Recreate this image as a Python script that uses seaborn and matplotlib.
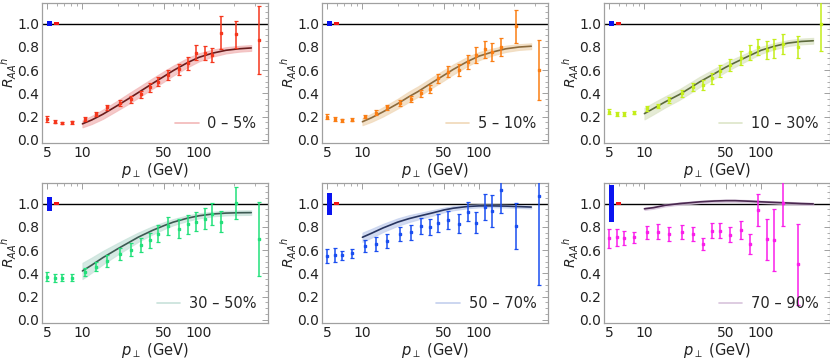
import numpy as np
import pandas as pd
import seaborn as sns
import matplotlib.pyplot as plt
from matplotlib.lines import Line2D
from matplotlib.ticker import FixedLocator, NullFormatter, MultipleLocator

# data
pt = [5.0, 5.8, 6.7, 8.2, 10.6, 13.0, 16.4, 21.0, 26.2, 31.5, 38.0, 44.5,
      54.0, 67.0, 80.0, 95.0, 112.0, 130.0, 153.0, 207.0, 325.0]

labels = ['0 – 5%', '5 – 10%', '10 – 30%', '30 – 50%', '50 – 70%', '70 – 90%']

raa_0_5 = [0.177, 0.157, 0.143, 0.149, 0.177, 0.223, 0.28, 0.314, 0.349, 0.39, 0.45,
           0.50, 0.557, 0.606, 0.657, 0.749, 0.743, 0.726, 0.923, 0.906, 0.857]
err_0_5 = [0.025, 0.015, 0.01, 0.01, 0.015, 0.02, 0.02, 0.025, 0.03, 0.03, 0.035,
           0.04, 0.045, 0.05, 0.055, 0.065, 0.06, 0.06, 0.14, 0.12, 0.29]
raa_5_10 = [0.20, 0.18, 0.166, 0.171, 0.20, 0.234, 0.28, 0.314, 0.349, 0.40, 0.437,
            0.529, 0.586, 0.60, 0.671, 0.729, 0.777, 0.757, 0.80, 0.977, 0.60]
err_5_10 = [0.025, 0.015, 0.01, 0.012, 0.015, 0.02, 0.022, 0.025, 0.028, 0.03, 0.035,
            0.04, 0.05, 0.05, 0.06, 0.065, 0.075, 0.075, 0.08, 0.14, 0.26]
raa_10_30 = [0.243, 0.223, 0.223, 0.234, 0.271, 0.291, 0.343, 0.40, 0.451, 0.471, 0.529,
             0.591, 0.643, 0.70, 0.751, 0.80, 0.771, 0.786, 0.823, 0.80, 1.0]
err_10_30 = [0.02, 0.015, 0.015, 0.015, 0.02, 0.02, 0.025, 0.03, 0.035, 0.04, 0.045,
             0.05, 0.055, 0.06, 0.065, 0.07, 0.075, 0.08, 0.085, 0.095, 0.24]
raa_30_50 = [0.37, 0.358, 0.361, 0.361, 0.413, 0.456, 0.507, 0.564, 0.602, 0.642, 0.685,
             0.742, 0.808, 0.785, 0.822, 0.845, 0.871, 0.908, 0.845, 1.003, 0.693]
err_30_50 = [0.04, 0.035, 0.03, 0.03, 0.035, 0.04, 0.05, 0.05, 0.055, 0.06, 0.065,
             0.07, 0.075, 0.08, 0.08, 0.085, 0.09, 0.095, 0.09, 0.14, 0.32]
raa_50_70 = [0.55, 0.556, 0.556, 0.573, 0.636, 0.656, 0.679, 0.736, 0.751, 0.808, 0.80,
             0.831, 0.86, 0.828, 0.931, 0.837, 0.971, 0.934, 1.117, 0.808, 1.066]
err_50_70 = [0.06, 0.06, 0.04, 0.04, 0.05, 0.06, 0.06, 0.06, 0.065, 0.07, 0.07,
             0.075, 0.08, 0.08, 0.08, 0.09, 0.11, 0.14, 0.2, 0.2, 0.77]
raa_70_90 = [0.70, 0.708, 0.702, 0.708, 0.751, 0.756, 0.742, 0.759, 0.742, 0.65, 0.765,
             0.765, 0.731, 0.774, 0.65, 0.943, 0.693, 0.685, 1.009, 0.478]
err_70_90 = [0.08, 0.075, 0.06, 0.05, 0.055, 0.065, 0.06, 0.06, 0.06, 0.05, 0.065,
             0.065, 0.065, 0.075, 0.085, 0.14, 0.175, 0.265, 0.2, 0.35]

# model curves
pt_th = [10, 12, 15, 20, 25, 30, 40, 50, 60, 80, 100, 130, 170, 220, 280]
th_0_5 = [0.137, 0.17, 0.22, 0.295, 0.355, 0.405, 0.485, 0.545, 0.595, 0.665, 0.71, 0.745, 0.77, 0.783, 0.79]
th_5_10 = [0.155, 0.19, 0.24, 0.31, 0.37, 0.415, 0.495, 0.555, 0.605, 0.675, 0.72, 0.755, 0.783, 0.798, 0.805]
th_10_30 = [0.225, 0.27, 0.325, 0.39, 0.45, 0.5, 0.57, 0.625, 0.665, 0.725, 0.77, 0.805, 0.832, 0.846, 0.852]
th_30_50 = [0.42, 0.47, 0.535, 0.61, 0.665, 0.71, 0.77, 0.81, 0.84, 0.875, 0.895, 0.91, 0.918, 0.921, 0.922]
th_50_70 = [0.71, 0.745, 0.79, 0.84, 0.87, 0.89, 0.92, 0.945, 0.96, 0.975, 0.98, 0.98, 0.978, 0.974, 0.97]
th_70_90 = [0.955, 0.965, 0.985, 1.0, 1.008, 1.015, 1.022, 1.025, 1.025, 1.02, 1.015, 1.01, 1.005, 1.0, 0.997]
band_0_5 = [0.03, 0.035, 0.04, 0.042, 0.045, 0.045, 0.045, 0.045, 0.043, 0.04, 0.035, 0.03, 0.027, 0.025, 0.025]
band_5_10 = band_0_5
band_10_30 = [0.05, 0.05, 0.048, 0.046, 0.045, 0.044, 0.042, 0.04, 0.037, 0.033, 0.03, 0.027, 0.025, 0.025, 0.025]
band_30_50 = [0.07, 0.065, 0.058, 0.05, 0.045, 0.04, 0.035, 0.03, 0.027, 0.024, 0.022, 0.02, 0.02, 0.02, 0.02]
band_50_70 = [0.04, 0.038, 0.035, 0.032, 0.03, 0.027, 0.024, 0.02, 0.018, 0.015, 0.013, 0.012, 0.012, 0.012, 0.012]
band_70_90 = [0.01] * 15

taa_unc = [0.02, 0.02, 0.02, 0.06, 0.095, 0.16]
lumi_unc = 0.015

raa = [raa_0_5, raa_5_10, raa_10_30, raa_30_50, raa_50_70, raa_70_90]
errs = [err_0_5, err_5_10, err_10_30, err_30_50, err_50_70, err_70_90]
th = [th_0_5, th_5_10, th_10_30, th_30_50, th_50_70, th_70_90]
bands = [band_0_5, band_5_10, band_10_30, band_30_50, band_50_70, band_70_90]

pt_colors = ['#f5361c', '#fa7e14', '#c4ee1a', '#22e07a', '#1a4ef0', '#fa1eea']
line_colors = ['#6a1c1c', '#8c6a3c', '#5c6a3c', '#3c5a52', '#283560', '#4a2850']
band_colors = ['#f2b8b8', '#f0d8b8', '#dde5c8', '#c8e2da', '#c4d0ee', '#d8c4dc']

sns.set_theme(style='white')
plt.rcParams['font.family'] = ['DejaVu Sans']
plt.rcParams['mathtext.fontset'] = 'dejavusans'

fig = plt.figure(figsize=(8.3, 3.61), dpi=100)
W, H = 830, 361
lefts = [42, 322, 604]
tops = [3, 183]
frame = '#a0a0a0'

for i in range(6):
    r, c = divmod(i, 3)
    ax = fig.add_axes([lefts[c] / W, 1 - (tops[r] + 140) / H, 226 / W, 140 / H])
    ax.set_xscale('log')

    n = len(raa[i])
    df = pd.DataFrame({'pt': pt[:n], 'raa': raa[i], 'err': errs[i]})
    dth = pd.DataFrame({'pt': pt_th, 'raa': th[i], 'band': bands[i]})

    ax.axhline(1.0, color='black', lw=1.0, zorder=1)
    ax.fill_between(dth['pt'], dth['raa'] - dth['band'], dth['raa'] + dth['band'],
                    color=band_colors[i], alpha=0.75, lw=0.8, edgecolor=band_colors[i], zorder=2)
    sns.lineplot(data=dth, x='pt', y='raa', ax=ax, color=line_colors[i], lw=1.2, zorder=3)
    ax.errorbar(df['pt'], df['raa'], yerr=df['err'], fmt='s', ms=2.0, color=pt_colors[i],
                elinewidth=1.1, capsize=1.5, capthick=0.9, zorder=4)

    # normalisation boxes
    ax.bar([5.2], [2 * taa_unc[i]], bottom=[1 - taa_unc[i]], width=0.5,
           color='#0a14f0', linewidth=0, zorder=5)
    ax.bar([5.97], [2 * lumi_unc], bottom=[1 - lumi_unc], width=0.55,
           color='#f21414', linewidth=0, zorder=5)

    ax.set_xlim(4.5, 390)
    ax.set_ylim(-0.028, 1.177)
    ax.xaxis.set_major_locator(FixedLocator([5, 10, 50, 100]))
    ax.set_xticklabels(['5', '10', '50', '100'])
    ax.xaxis.set_minor_locator(FixedLocator([6, 7, 8, 9, 20, 30, 40, 60, 70, 80, 90, 200, 300]))
    ax.xaxis.set_minor_formatter(NullFormatter())
    ax.yaxis.set_major_locator(MultipleLocator(0.2))
    ax.yaxis.set_minor_locator(MultipleLocator(0.05))
    ax.yaxis.set_major_formatter(plt.FuncFormatter(lambda v, p: f'{v:.1f}'))
    ax.tick_params(which='both', direction='in', top=True, right=True, color=frame,
                   labelsize=10, labelcolor='#222222', pad=2)
    ax.tick_params(which='major', length=4, width=0.7)
    ax.tick_params(which='minor', length=2, width=0.6)
    for s in ax.spines.values():
        s.set_color(frame)
        s.set_linewidth(0.9)

    ax.set_xlabel(r'$p_{\perp}$ (GeV)', fontsize=10.5, labelpad=1, color='#222222')
    ax.set_ylabel(r'$R_{AA}{}^{h}$', fontsize=10, color='#222222')
    ax.yaxis.set_label_coords(-0.1, 0.5)

    handle = Line2D([0], [0], color=band_colors[i], lw=1.2)
    ax.legend([handle], [labels[i]], loc='lower right', frameon=False, fontsize=10.5,
              handlelength=1.6, handletextpad=0.6, borderaxespad=0.4)

fig.savefig('out.png', dpi=100)
